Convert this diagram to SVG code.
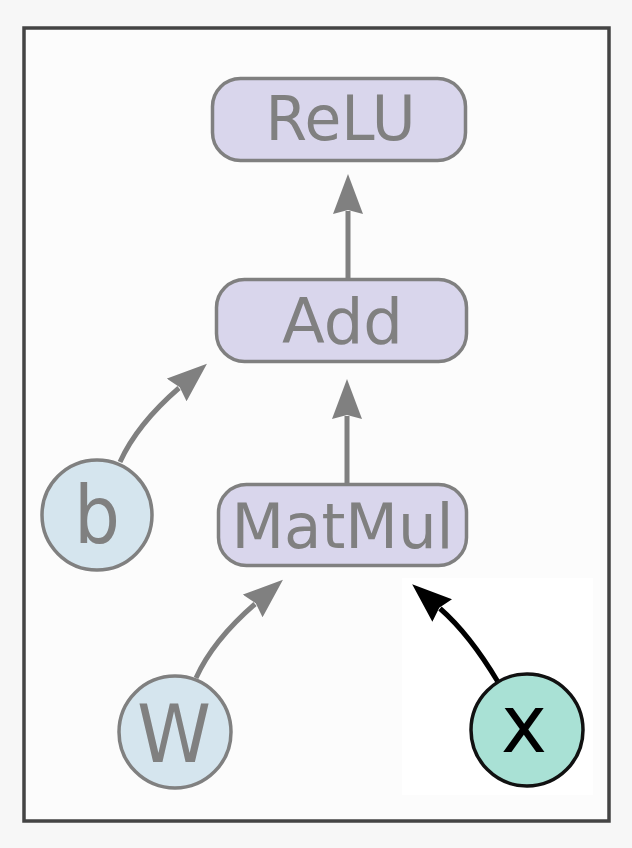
<svg xmlns="http://www.w3.org/2000/svg" width="632" height="848" viewBox="0 0 632 848">
<style>
.box{fill:#d9d6ec;stroke:#808080;stroke-width:3.5}
.var{fill:#d5e5ee;stroke:#808080;stroke-width:3.5}
.inp{fill:#a9e1d5;stroke:#111;stroke-width:3.5}
.lbl{font-family:"DejaVu Sans","Liberation Sans",sans-serif;fill:#808080;text-anchor:middle}
.op{font-size:63px}
.vl{font-size:80px}
.edge{fill:none;stroke:#808080;stroke-width:5}
.edgek{fill:none;stroke:#000;stroke-width:5}
</style>
<defs>
<marker id="ah" viewBox="0 0 40 30" markerWidth="40" markerHeight="30" refX="3" refY="15" orient="auto" markerUnits="userSpaceOnUse">
<path d="M0,0 L40,15 L0,30 L4,15 Z" fill="#808080"/>
</marker>
<marker id="ahk" viewBox="0 0 40 30" markerWidth="40" markerHeight="30" refX="3" refY="15" orient="auto" markerUnits="userSpaceOnUse">
<path d="M0,0 L40,15 L0,30 L4,15 Z" fill="#000"/>
</marker>
</defs>
<rect width="632" height="848" fill="#f7f7f7"/>
<rect x="24" y="28" width="585" height="793" fill="#fcfcfc" stroke="#444" stroke-width="3.5"/>
<rect x="402" y="578" width="191" height="217" fill="#ffffff"/>
<g id="connectors">
<path class="edge" d="M348,278 L348,211" marker-end="url(#ah)"/>
<path class="edge" d="M347,483 L347,416" marker-end="url(#ah)"/>
<path class="edge" d="M120,462 Q137,424.4 179,388" marker-end="url(#ah)"/>
<path class="edge" d="M196,678 Q213,640.4 255,604" marker-end="url(#ah)"/>
<path class="edgek" d="M498,682 Q469.6,634.4 440,608.5" marker-end="url(#ahk)"/>
</g>
<g id="relu">
<rect class="box" x="212.5" y="78.5" width="253" height="82" rx="28"/>
<text class="lbl op" x="340.5" y="140" textLength="150" lengthAdjust="spacingAndGlyphs">ReLU</text>
</g>
<g id="add">
<rect class="box" x="216.5" y="279.5" width="250" height="82" rx="28"/>
<text class="lbl op" x="342.5" y="343" textLength="121" lengthAdjust="spacingAndGlyphs">Add</text>
</g>
<g id="matmul">
<rect class="box" x="218.5" y="484.5" width="248" height="81" rx="28"/>
<text class="lbl op" x="342.5" y="548" textLength="222" lengthAdjust="spacingAndGlyphs">MatMul</text>
</g>
<g id="b">
<circle class="var" cx="97" cy="515" r="55"/>
<text class="lbl vl" x="97" y="543" textLength="46" lengthAdjust="spacingAndGlyphs">b</text>
</g>
<g id="W">
<circle class="var" cx="175" cy="732" r="56"/>
<text class="lbl vl" x="174" y="762" textLength="74" lengthAdjust="spacingAndGlyphs">W</text>
</g>
<g id="x">
<circle class="inp" cx="527" cy="730" r="56"/>
<text class="lbl vl" x="524" y="752" textLength="46" lengthAdjust="spacingAndGlyphs" style="fill:#000">x</text>
</g>
</svg>
